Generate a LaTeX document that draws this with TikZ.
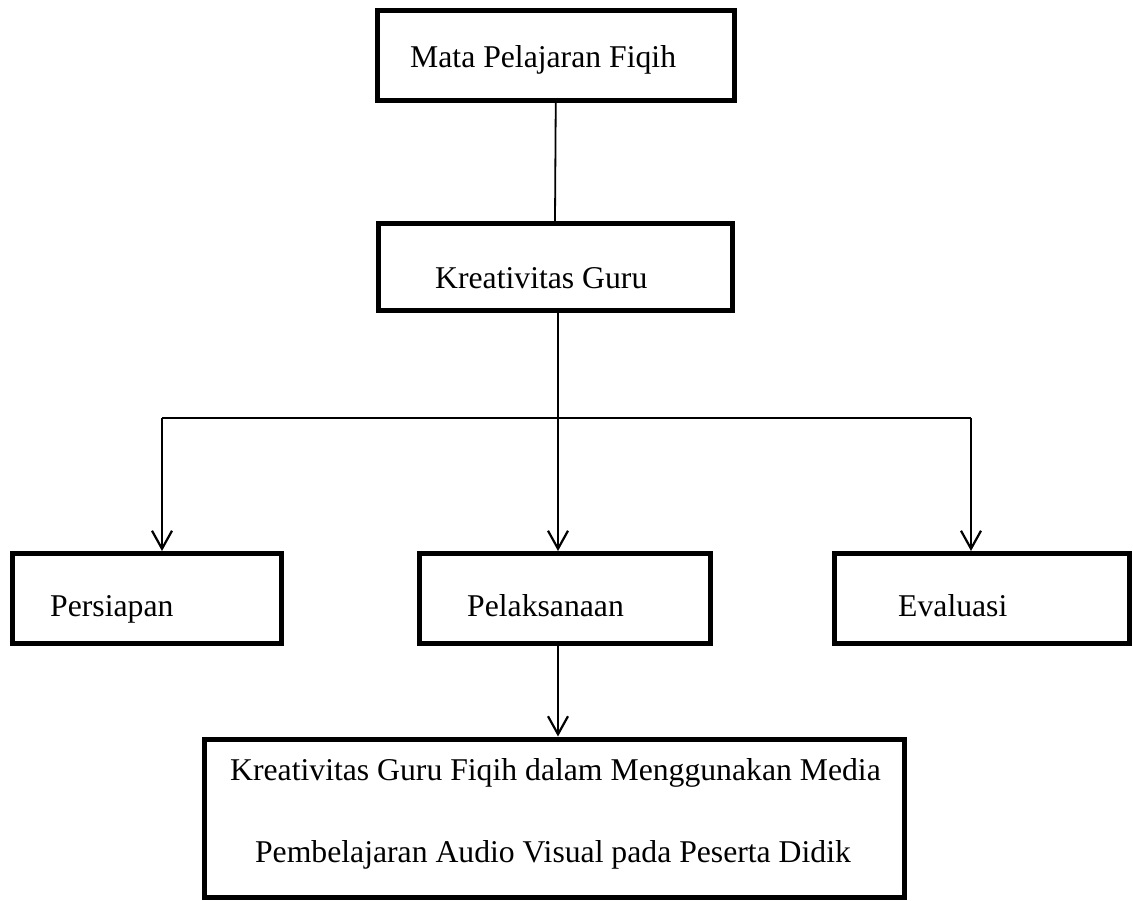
\documentclass[tikz,border=0pt]{standalone}
\usepackage{fontspec}
\setmainfont{Liberation Serif}
\usetikzlibrary{arrows.meta}
\begin{document}
\begin{tikzpicture}[x=1pt,y=-1pt,
  box/.style={draw=black,line width=5pt,rectangle,inner sep=0pt,fill=white},
  lbl/.style={inner sep=0pt,anchor=base west,font=\fontsize{31.7}{38}\selectfont},
  clbl/.style={inner sep=0pt,anchor=base,font=\fontsize{31.7}{38}\selectfont},
  conn/.style={draw=black,line width=1.8pt},
  arr/.style={draw=black,line width=2.2pt,-{Straight Barb[length=18pt,width=20pt,line width=2.2pt]}}]
\useasboundingbox (0,0) rectangle (1133,900);
% boxes
\node[box,minimum width=356.5pt,minimum height=89.5pt] (mp) at (555.75,55.25) {};
\node[box,minimum width=354pt,minimum height=86.5pt] (kg) at (555,266.75) {};
\node[box,minimum width=269pt,minimum height=90pt] (ps) at (147,598.5) {};
\node[box,minimum width=291pt,minimum height=90pt] (pl) at (564.5,598.5) {};
\node[box,minimum width=295pt,minimum height=90pt] (ev) at (982,598.5) {};
\node[box,minimum width=700pt,minimum height=158.5pt] (fin) at (554.5,818.25) {};
% texts
\node[lbl] (tmp) at (410,67) {Mata Pelajaran Fiqih};
\node[lbl] (tkg) at (435,288) {Kreativitas Guru};
\node[lbl] (tps) at (50,616) {Persiapan};
\node[lbl] (tpl) at (467,616) {Pelaksanaan};
\node[lbl] (tev) at (898,616) {Evaluasi};
\node[clbl] (tf1) at (555.5,780) {Kreativitas Guru Fiqih dalam Menggunakan Media};
\node[clbl] (tf2) at (553,862) {Pembelajaran Audio Visual pada Peserta Didik};
% connectors
\coordinate (split) at (558,418);
\coordinate (L) at (162,418);
\coordinate (R) at (971,418);
\draw[conn] (mp.south) -- (kg.north);
\draw[conn] (split |- kg.south) -- (split);
\draw[conn] (L) -- (R);
\draw[arr] (L) -- (L |- ps.north);
\draw[arr] (split) -- (split |- pl.north);
\draw[arr] (R) -- (R |- ev.north);
\draw[arr] (split |- pl.south) -- (split |- fin.north);
\end{tikzpicture}
\end{document}
